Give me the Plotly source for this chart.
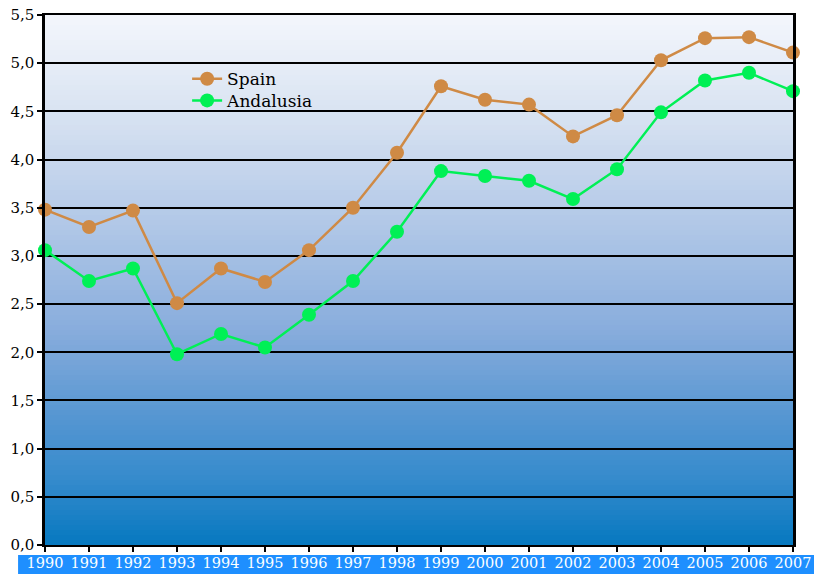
import plotly.graph_objects as go

years = list(range(1990, 2008))
spain = [3.48, 3.30, 3.47, 2.51, 2.87, 2.73, 3.06, 3.50, 4.07, 4.76,
         4.62, 4.57, 4.24, 4.46, 5.03, 5.26, 5.27, 5.11]
andalusia = [3.06, 2.74, 2.87, 1.98, 2.19, 2.05, 2.39, 2.74, 3.25, 3.88,
             3.83, 3.78, 3.59, 3.90, 4.49, 4.82, 4.90, 4.71]
y_ticks = [i * 0.5 for i in range(12)]

SERIF = "DejaVu Serif, Liberation Serif, serif"

fig = go.Figure()

fig.add_trace(go.Scatter(
    x=years, y=spain, name="Spain", mode="lines+markers",
    line=dict(color="#cf8a45", width=2.5),
    marker=dict(color="#cf8a45", size=14), cliponaxis=False, legend="legend"))
fig.add_trace(go.Scatter(
    x=years, y=andalusia, name="Andalusia", mode="lines+markers",
    line=dict(color="#00f055", width=2.5),
    marker=dict(color="#00f055", size=14), cliponaxis=False, legend="legend2"))

# vertical gradient background (strips)
def lerp(c1, c2, t):
    return tuple(round(a + (b - a) * t) for a, b in zip(c1, c2))

stops = [(0.0, (5, 120, 192)), (0.12, (52, 138, 204)), (0.25, (88, 151, 210)),
         (0.4, (135, 172, 220)), (0.6, (176, 199, 231)), (0.8, (214, 225, 241)),
         (1.0, (244, 247, 252))]

def color_at(t):
    for (t0, c0), (t1, c1) in zip(stops[:-1], stops[1:]):
        if t0 <= t <= t1:
            return "rgb(%d,%d,%d)" % lerp(c0, c1, (t - t0) / (t1 - t0))
    return "rgb(%d,%d,%d)" % stops[-1][1]

shapes = []
N = 106
for i in range(N):
    y0 = i / N
    y1 = min((i + 2) / N, 1)
    shapes.append(dict(type="rect", xref="paper", yref="paper", x0=0, x1=1,
                       y0=y0, y1=y1, fillcolor=color_at((i + 0.5) / N),
                       line=dict(width=0), layer="below"))
# blue band behind x tick labels
shapes.append(dict(type="rect", xref="paper", yref="paper",
                   x0=-0.036, x1=1.03, y0=-0.0189, y1=-0.06,
                   fillcolor="#1e8fff", line=dict(width=0), layer="below"))

legend_common = dict(xanchor="left", yanchor="middle", bgcolor="rgba(0,0,0,0)",
                     font=dict(family=SERIF, size=17, color="black"), itemwidth=30)

fig.update_layout(
    width=814, height=574,
    margin=dict(l=45, r=21, t=15, b=29),
    paper_bgcolor="white", plot_bgcolor="white",
    separators=",.",
    shapes=shapes,
    showlegend=True,
    legend=dict(x=0.19, y=0.879, **legend_common),
    legend2=dict(x=0.19, y=0.838, **legend_common),
    xaxis=dict(range=[1990, 2007], tickvals=years, ticktext=[str(y) for y in years],
               automargin=False, ticklabeloverflow="allow", ticklabelstandoff=-1,
               showgrid=False, zeroline=False, showline=True, linecolor="black",
               linewidth=2, mirror=True, ticks="outside", ticklen=5, tickwidth=2,
               tickcolor="black", tickfont=dict(family=SERIF, size=14.5, color="white")),
    yaxis=dict(range=[0, 5.5], tickvals=y_ticks, tickformat=".1f", automargin=False,
               ticklabeloverflow="allow",
               showgrid=True, gridcolor="black", gridwidth=1.5, zeroline=False,
               showline=True, linecolor="black", linewidth=2.5, mirror=True,
               ticks="outside", ticklen=5, tickwidth=2, tickcolor="black",
               tickfont=dict(family=SERIF, size=15, color="black")),
)

# remove the default 8px page margin so the figure fills the window exactly
fig.write_html("out.html", config={"displayModeBar": False},
               post_script="document.body.style.margin='0';document.body.style.overflow='hidden';")
